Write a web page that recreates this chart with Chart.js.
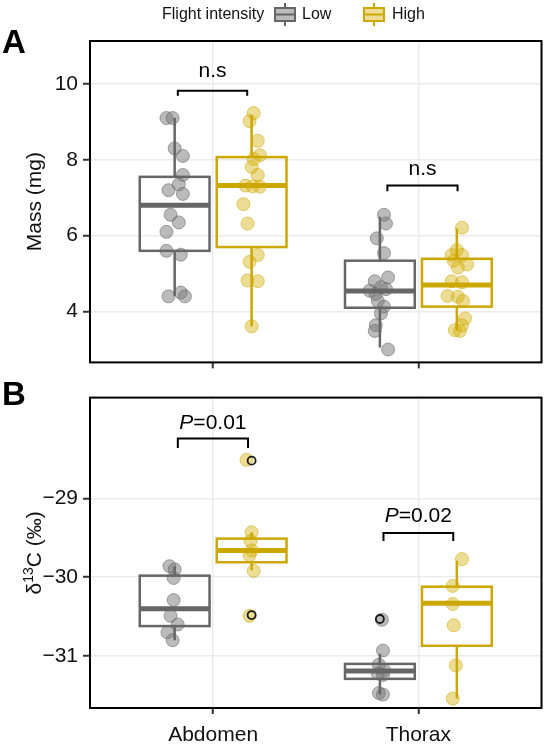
<!DOCTYPE html>
<html>
<head>
<meta charset="utf-8">
<script src="https://cdn.jsdelivr.net/npm/chart.js@4.4.1/dist/chart.umd.min.js"></script>
<style>
  body { margin: 0; background: #fff; width: 549px; height: 750px; overflow: hidden; position: relative; }
  canvas { position: absolute; left: 0; }
  #chartA { top: 0; }
  #chartB { top: 380px; }
</style>
</head>
<body>
<canvas id="chartA" width="549" height="380"></canvas>
<canvas id="chartB" width="549" height="370"></canvas>
<script>
const categories = ['Abdomen', 'Thorax'];
const groupNames = ['Low', 'High'];

// Panel A, mass (mg); jitter = horizontal offset of each point
const massLowAbd = [9.10, 9.10, 8.30, 8.10, 7.60, 7.35, 7.20, 7.10, 6.55, 6.35, 6.10, 5.60, 5.50, 4.40, 4.50, 4.40];
const massLowAbdJit = [-0.04, -0.01, 0.00, 0.04, 0.04, 0.02, -0.03, 0.04, -0.02, 0.02, -0.04, -0.04, 0.03, -0.03, 0.03, 0.05];
const massHighAbd = [9.23, 9.02, 8.50, 8.12, 8.02, 7.81, 7.60, 7.32, 7.29, 7.30, 6.83, 6.32, 5.49, 5.31, 4.82, 4.80, 3.61];
const massHighAbdJit = [0.01, -0.01, 0.03, 0.04, 0.01, 0.00, 0.03, -0.03, 0.04, 0.005, -0.04, -0.02, 0.03, -0.01, -0.02, 0.03, 0.00];
const massLowTho = [6.55, 6.32, 5.93, 5.54, 4.90, 4.80, 4.64, 4.59, 4.55, 4.46, 4.28, 4.13, 3.95, 3.64, 3.49, 3.00];
const massLowThoJit = [0.02, 0.03, -0.015, 0.02, 0.04, -0.025, 0.005, 0.03, -0.05, -0.02, -0.01, 0.02, 0.005, -0.02, -0.025, 0.04];
const massHighTho = [6.21, 5.62, 5.49, 5.49, 5.34, 5.24, 5.16, 4.80, 4.77, 4.41, 4.39, 4.28, 3.82, 3.64, 3.51, 3.49];
const massHighThoJit = [0.025, 0, -0.025, 0.025, -0.015, 0.05, 0.005, -0.025, 0.025, -0.045, 0.005, 0.03, 0.04, 0.025, -0.01, 0.015];

// box stats [lower whisker, q1, median, q3, upper whisker], per category
const massBoxLow = [[4.41, 5.60, 6.80, 7.55, 9.10], [3.05, 4.10, 4.54, 5.34, 6.50]];
const massBoxHigh = [[3.61, 5.70, 7.32, 8.07, 9.17], [3.50, 4.13, 4.70, 5.39, 6.19]];
const massTicks = [4, 6, 8, 10];

// Panel B, d13C (per mil)
const d13cLowAbd = [-29.86, -29.90, -30.01, -30.29, -30.49, -30.60, -30.70, -30.80];
const d13cLowAbdJit = [-0.025, 0, -0.005, -0.005, -0.02, 0.015, -0.035, -0.01];
const d13cHighAbd = [-28.51, -29.43, -29.54, -29.66, -29.72, -29.92, -30.49];
const d13cHighAbdJit = [-0.025, 0, -0.005, 0, -0.01, 0.01, -0.01];
const d13cLowTho = [-30.54, -30.93, -31.11, -31.18, -31.22, -31.24, -31.47, -31.49];
const d13cLowThoJit = [0.01, 0.015, -0.005, 0.02, -0.01, 0.015, -0.005, 0.015];
const d13cHighTho = [-29.77, -30.11, -30.34, -30.61, -31.12, -31.54];
const d13cHighThoJit = [0.025, -0.02, -0.02, -0.015, -0.005, -0.02];

const d13cBoxLow = [[-30.80, -30.62, -30.40, -29.98, -29.86], [-31.49, -31.29, -31.19, -31.10, -30.97]];
const d13cBoxHigh = [[-29.91, -29.81, -29.66, -29.51, -29.43], [-31.54, -30.87, -30.33, -30.12, -29.79]];
const d13cOutLow = [[], [-30.53]];
const d13cOutHigh = [[-28.52, -30.48], []];
const d13cTicks = [-31, -30, -29];

// significance brackets: [x start, x end, bar y, tip y, label y]
const massBrackets = [[0.828, 1.166, 9.82, 9.69, 10.33], [1.849, 2.191, 7.32, 7.17, 7.76]];
const massLabels = ['n.s', 'n.s'];
const d13cBrackets = [[0.828, 1.170, -28.24, -28.36, -28.05], [1.830, 2.170, -29.44, -29.54, -29.23]];
const d13cLabels = ['0.01', '0.02'];

const lowColor = '#666666';
const highColor = '#CCA700';
const lowFill = 'rgba(120,120,120,0.5)';
const highFill = 'rgba(212,175,0,0.42)';
const FONT = "'Liberation Sans', Arial, sans-serif";
const dodge = 0.1875;

function pts(vals, jit, center) {
  return vals.map((v, i) => ({ x: center + jit[i], y: v }));
}

function makePanel(canvasId, cfg) {
  const boxPlugin = {
    id: 'boxes_' + canvasId,
    afterDatasetsDraw(chart) {
      const ctx = chart.ctx;
      const x = chart.scales.x, y = chart.scales.y;
      ctx.save();
      cfg.boxes.forEach(b => {
        const [lo, q1, md, q3, hi] = b.stats;
        const xc = x.getPixelForValue(b.x);
        const xl = x.getPixelForValue(b.x - 0.17);
        const xr = x.getPixelForValue(b.x + 0.17);
        ctx.strokeStyle = b.color;
        ctx.lineWidth = 2.5;
        ctx.beginPath();
        ctx.moveTo(xc, y.getPixelForValue(hi)); ctx.lineTo(xc, y.getPixelForValue(q3));
        ctx.moveTo(xc, y.getPixelForValue(q1)); ctx.lineTo(xc, y.getPixelForValue(lo));
        ctx.stroke();
        const yt = y.getPixelForValue(q3), yb = y.getPixelForValue(q1);
        ctx.strokeRect(xl, yt, xr - xl, yb - yt);
        ctx.lineWidth = 5;
        ctx.beginPath();
        ctx.moveTo(xl, y.getPixelForValue(md)); ctx.lineTo(xr, y.getPixelForValue(md));
        ctx.stroke();
        (b.outliers || []).forEach(o => {
          ctx.strokeStyle = '#1a1a1a';
          ctx.lineWidth = 1.8;
          ctx.beginPath();
          ctx.arc(xc, y.getPixelForValue(o), 4, 0, Math.PI * 2);
          ctx.stroke();
        });
      });
      // brackets
      ctx.strokeStyle = '#000';
      ctx.lineWidth = 2;
      ctx.fillStyle = '#000';
      cfg.brackets.forEach((br, i) => {
        const x0 = x.getPixelForValue(br[0]), x1 = x.getPixelForValue(br[1]);
        const yb = y.getPixelForValue(br[2]), yt = y.getPixelForValue(br[3]);
        ctx.beginPath();
        ctx.moveTo(x0, yt); ctx.lineTo(x0, yb); ctx.lineTo(x1, yb); ctx.lineTo(x1, yt);
        ctx.stroke();
        const xm = (x0 + x1) / 2, ly = y.getPixelForValue(br[4]);
        ctx.textBaseline = 'middle';
        if (cfg.pLabel) {
          ctx.font = 'italic 21px ' + FONT;
          const wp = ctx.measureText('P').width;
          ctx.font = '21px ' + FONT;
          const rest = '=' + cfg.labels[i];
          const wr = ctx.measureText(rest).width;
          const sx = xm - (wp + wr) / 2;
          ctx.textAlign = 'left';
          ctx.font = 'italic 21px ' + FONT;
          ctx.fillText('P', sx, ly);
          ctx.font = '21px ' + FONT;
          ctx.fillText(rest, sx + wp, ly);
        } else {
          ctx.font = '21px ' + FONT;
          ctx.textAlign = 'center';
          ctx.fillText(cfg.labels[i], xm, ly);
        }
      });
      ctx.restore();
    },
    afterDraw(chart) {
      const ctx = chart.ctx;
      const a = chart.chartArea;
      ctx.save();
      ctx.strokeStyle = '#000';
      ctx.lineWidth = 2;
      ctx.strokeRect(a.left, a.top, a.right - a.left, a.bottom - a.top);
      // y title
      ctx.translate(a.left - 55, (a.top + a.bottom) / 2);
      ctx.rotate(-Math.PI / 2);
      ctx.fillStyle = '#111';
      ctx.textBaseline = 'middle';
      if (cfg.isotope) {
        ctx.font = '21px ' + FONT;
        const w1 = ctx.measureText('\u03B4').width;
        const w3 = ctx.measureText('C (\u2030)').width;
        ctx.font = '14px ' + FONT;
        const w2 = ctx.measureText('13').width;
        let sx = -(w1 + w2 + w3) / 2;
        ctx.textAlign = 'left';
        ctx.font = '21px ' + FONT;
        ctx.fillText('\u03B4', sx, 0);
        ctx.font = '14px ' + FONT;
        ctx.fillText('13', sx + w1, -6);
        ctx.font = '21px ' + FONT;
        ctx.fillText('C (\u2030)', sx + w1 + w2, 0);
      } else {
        ctx.font = '21px ' + FONT;
        ctx.textAlign = 'center';
        ctx.fillText(cfg.yTitle, 0, 0);
      }
      ctx.restore();
      // panel letter
      ctx.save();
      ctx.fillStyle = '#000';
      ctx.font = 'bold 33px ' + FONT;
      ctx.textBaseline = 'alphabetic';
      ctx.textAlign = 'left';
      ctx.fillText(cfg.letter, 2, cfg.letterY);
      ctx.restore();
      if (cfg.legend) drawLegend(ctx);
    }
  };

  return new Chart(document.getElementById(canvasId), {
    type: 'scatter',
    data: {
      datasets: [
        {
          label: groupNames[0],
          data: cfg.lowPts,
          backgroundColor: lowFill,
          borderColor: 'rgba(100,100,100,0.55)',
          borderWidth: 1,
          pointRadius: 6.5
        },
        {
          label: groupNames[1],
          data: cfg.highPts,
          backgroundColor: highFill,
          borderColor: 'rgba(200,165,0,0.5)',
          borderWidth: 1,
          pointRadius: 6.5
        }
      ]
    },
    options: {
      responsive: false,
      animation: false,
      layout: { padding: { top: cfg.padTop, right: 2, left: 0, bottom: 0 } },
      plugins: { legend: { display: false }, tooltip: { enabled: false } },
      scales: {
        x: {
          type: 'linear',
          min: 0.4,
          max: 2.6,
          afterBuildTicks: s => { s.ticks = [{ value: 1 }, { value: 2 }]; },
          afterFit: s => { s.height = cfg.xHeight; },
          ticks: {
            display: cfg.xLabels,
            padding: 9,
            color: '#111',
            font: { family: FONT, size: 21 },
            callback: v => categories[v - 1]
          },
          grid: { color: '#ebebeb', lineWidth: 1.5, tickLength: 6, tickColor: '#333', tickWidth: 2 },
          border: { display: false }
        },
        y: {
          min: cfg.yMin,
          max: cfg.yMax,
          afterBuildTicks: s => { s.ticks = cfg.ticks.map(v => ({ value: v })); },
          afterFit: s => { s.width = 90; },
          ticks: {
            padding: 5,
            color: '#111',
            font: { family: FONT, size: 21 },
            callback: v => (v < 0 ? '\u2212' + Math.abs(v) : String(v))
          },
          grid: { color: '#ebebeb', lineWidth: 1.5, tickLength: 7, tickColor: '#333', tickWidth: 2 },
          border: { display: false }
        }
      }
    },
    plugins: [boxPlugin]
  });
}

function drawLegend(ctx) {
  ctx.save();
  ctx.font = '16px ' + FONT;
  ctx.fillStyle = '#111';
  ctx.textBaseline = 'middle';
  ctx.textAlign = 'left';
  ctx.fillText('Flight intensity', 162, 15);
  const keys = [[274, lowColor, lowFill, groupNames[0], 302], [363, highColor, highFill, groupNames[1], 392]];
  keys.forEach(k => {
    const [kx, col, fill, txt, tx] = k;
    ctx.fillStyle = fill;
    ctx.fillRect(kx + 1, 8, 20, 13);
    ctx.strokeStyle = col;
    ctx.lineWidth = 2;
    ctx.strokeRect(kx + 1, 8, 20, 13);
    ctx.beginPath();
    ctx.moveTo(kx + 11, 3); ctx.lineTo(kx + 11, 8);
    ctx.moveTo(kx + 11, 21); ctx.lineTo(kx + 11, 26);
    ctx.moveTo(kx + 1, 14.5); ctx.lineTo(kx + 21, 14.5);
    ctx.stroke();
    ctx.fillStyle = '#111';
    ctx.fillText(txt, tx, 15);
  });
  ctx.restore();
}

makePanel('chartA', {
  lowPts: pts(massLowAbd, massLowAbdJit, 1 - dodge).concat(pts(massLowTho, massLowThoJit, 2 - dodge)),
  highPts: pts(massHighAbd, massHighAbdJit, 1 + dodge).concat(pts(massHighTho, massHighThoJit, 2 + dodge)),
  boxes: [
    { x: 1 - dodge, stats: massBoxLow[0], color: lowColor },
    { x: 2 - dodge, stats: massBoxLow[1], color: lowColor },
    { x: 1 + dodge, stats: massBoxHigh[0], color: highColor },
    { x: 2 + dodge, stats: massBoxHigh[1], color: highColor }
  ],
  brackets: massBrackets,
  labels: massLabels,
  pLabel: false,
  yMin: 2.66, yMax: 11.13, ticks: massTicks,
  yTitle: 'Mass (mg)',
  padTop: 41, xHeight: 10, xLabels: false,
  letter: 'A', letterY: 53, legend: true
});

makePanel('chartB', {
  lowPts: pts(d13cLowAbd, d13cLowAbdJit, 1 - dodge).concat(pts(d13cLowTho, d13cLowThoJit, 2 - dodge)),
  highPts: pts(d13cHighAbd, d13cHighAbdJit, 1 + dodge).concat(pts(d13cHighTho, d13cHighThoJit, 2 + dodge)),
  boxes: [
    { x: 1 - dodge, stats: d13cBoxLow[0], color: lowColor, outliers: d13cOutLow[0] },
    { x: 2 - dodge, stats: d13cBoxLow[1], color: lowColor, outliers: d13cOutLow[1] },
    { x: 1 + dodge, stats: d13cBoxHigh[0], color: highColor, outliers: d13cOutHigh[0] },
    { x: 2 + dodge, stats: d13cBoxHigh[1], color: highColor, outliers: d13cOutHigh[1] }
  ],
  brackets: d13cBrackets,
  labels: d13cLabels,
  pLabel: true,
  yMin: -31.66, yMax: -27.72, ticks: d13cTicks,
  isotope: true,
  padTop: 13, xHeight: 42, xLabels: true,
  letter: 'B', letterY: 25, legend: false
});
</script>
</body>
</html>
